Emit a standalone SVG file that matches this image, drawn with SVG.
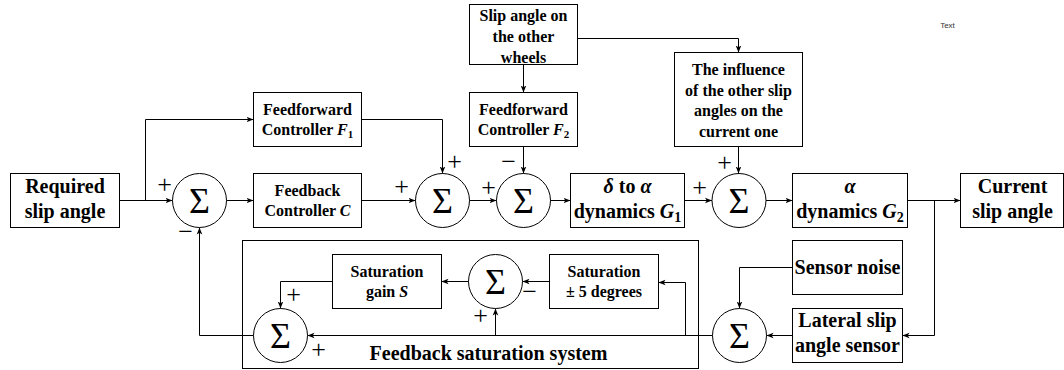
<svg xmlns="http://www.w3.org/2000/svg" width="1064" height="370" viewBox="0 0 1064 370">
<defs>
<marker id="arr" viewBox="0 0 10 10" refX="10" refY="5" markerWidth="7" markerHeight="7" markerUnits="userSpaceOnUse" orient="auto">
<path d="M0,1 L10,5 L0,9 L2.5,5 Z" fill="#000"/>
</marker>
<style>
.box{fill:#fff;stroke:#000;stroke-width:1}
.sum{fill:#fff;stroke:#000;stroke-width:1}
.edge{fill:none;stroke:#000;stroke-width:1;marker-end:url(#arr)}
text{font-weight:bold;fill:#000;text-anchor:middle}
.L{font-size:20px}
.S{font-size:16px}
.sig{font-size:36px;font-weight:normal}
.pm{font-size:26px;font-weight:normal}
.i{font-style:italic}
.note{font-size:8px;font-weight:normal;fill:#333}
</style>
</defs>
<rect width="1064" height="370" fill="#fff"/>
<g transform="translate(0.5,0.5)" font-family="'Liberation Serif', 'DejaVu Serif', serif">
<g id="saturation-system">
<rect class="box" x="242" y="240" width="456" height="128"/>
<text class="L" x="488" y="359">Feedback saturation system</text>
</g>
<g id="required"><rect class="box" x="10" y="173" width="109" height="54"/>
<text class="L" x="64.5" y="192">Required</text><text class="L" x="64.5" y="217">slip angle</text></g>
<g id="ff1"><rect class="box" x="253" y="92" width="108" height="54"/>
<text class="S" x="307" y="114">Feedforward</text><text class="S" x="307" y="134">Controller <tspan class="i">F</tspan><tspan font-size="11" dy="3">1</tspan></text></g>
<g id="fb"><rect class="box" x="253" y="173" width="108" height="54"/>
<text class="S" x="307" y="195">Feedback</text><text class="S" x="307" y="215">Controller <tspan class="i">C</tspan></text></g>
<g id="other"><rect class="box" x="469" y="4" width="108" height="60"/>
<text class="S" x="523" y="20">Slip angle on</text><text class="S" x="523" y="41">the other</text><text class="S" x="523" y="62">wheels</text></g>
<g id="ff2"><rect class="box" x="469" y="92" width="108" height="54"/>
<text class="S" x="523" y="114">Feedforward</text><text class="S" x="523" y="134">Controller <tspan class="i">F</tspan><tspan font-size="11" dy="3">2</tspan></text></g>
<g id="g1"><rect class="box" x="570" y="173" width="114" height="54"/>
<text class="L" x="627" y="192"><tspan class="i">δ</tspan> to <tspan class="i">α</tspan></text><text class="L" x="627" y="217">dynamics <tspan class="i">G</tspan><tspan font-size="14" dy="4">1</tspan></text></g>
<g id="influence"><rect class="box" x="674" y="52" width="128" height="94"/>
<text class="S" x="738" y="74">The influence</text><text class="S" x="738" y="95">of the other slip</text><text class="S" x="738" y="115">angles on the</text><text class="S" x="738" y="136">current one</text></g>
<g id="g2"><rect class="box" x="792" y="173" width="115" height="54"/>
<text class="L" x="849.5" y="192"><tspan class="i">α</tspan></text><text class="L" x="849.5" y="217">dynamics <tspan class="i">G</tspan><tspan font-size="14" dy="4">2</tspan></text></g>
<g id="current"><rect class="box" x="960" y="173" width="103" height="54"/>
<text class="L" x="1012" y="192">Current</text><text class="L" x="1012" y="217">slip angle</text></g>
<g id="satgain"><rect class="box" x="332" y="254" width="109" height="54"/>
<text class="S" x="386.5" y="276">Saturation</text><text class="S" x="386.5" y="296">gain <tspan class="i">S</tspan></text></g>
<g id="sat5"><rect class="box" x="549" y="254" width="109" height="54"/>
<text class="S" x="603.5" y="276">Saturation</text><text class="S" x="603.5" y="296">± 5 degrees</text></g>
<g id="noise"><rect class="box" x="792" y="240" width="110" height="54"/>
<text class="L" x="847" y="273">Sensor noise</text></g>
<g id="sensor"><rect class="box" x="792" y="308" width="110" height="54"/>
<text class="L" x="847" y="326">Lateral slip</text><text class="L" x="847" y="351">angle sensor</text></g>
<g id="sum1"><circle class="sum" cx="199" cy="200" r="27"/><text class="sig" x="199" y="212">Σ</text>
<text class="pm" x="164" y="192.5">+</text><text class="pm" x="185" y="239.5">−</text></g>
<g id="sum2"><circle class="sum" cx="442" cy="200" r="27"/><text class="sig" x="442" y="212">Σ</text>
<text class="pm" x="401" y="194.5">+</text><text class="pm" x="454" y="169.5">+</text></g>
<g id="sum3"><circle class="sum" cx="523" cy="200" r="27"/><text class="sig" x="523" y="212">Σ</text>
<text class="pm" x="488" y="195.5">+</text><text class="pm" x="508" y="169.5">−</text></g>
<g id="sum4"><circle class="sum" cx="738.5" cy="200" r="27"/><text class="sig" x="738.5" y="212">Σ</text>
<text class="pm" x="699" y="195.5">+</text><text class="pm" x="724" y="170.5">+</text></g>
<g id="sum5"><circle class="sum" cx="739" cy="335" r="27"/><text class="sig" x="739" y="347">Σ</text></g>
<g id="sum6"><circle class="sum" cx="280" cy="335" r="27"/><text class="sig" x="280" y="347">Σ</text>
<text class="pm" x="293" y="302.5">+</text><text class="pm" x="318" y="357.5">+</text></g>
<g id="sum7"><circle class="sum" cx="495" cy="281" r="27"/><text class="sig" x="495" y="293">Σ</text>
<text class="pm" x="529" y="299.5">−</text><text class="pm" x="480" y="323.5">+</text></g>
<g id="connectors">
<path class="edge" d="M119,200 H172"/>
<path class="edge" d="M145,200 V119 H253"/>
<path class="edge" d="M226,200 H253"/>
<path class="edge" d="M361,200 H415"/>
<path class="edge" d="M361,119 H442 V173"/>
<path class="edge" d="M469,200 H496"/>
<path class="edge" d="M523,64 V92"/>
<path class="edge" d="M523,146 V173"/>
<path class="edge" d="M550,200 H570"/>
<path class="edge" d="M684,200 H711.5"/>
<path class="edge" d="M577,38 H738 V52"/>
<path class="edge" d="M738,146 V173"/>
<path class="edge" d="M765.5,200 H792"/>
<path class="edge" d="M907,200 H960"/>
<path class="edge" d="M934,200 V335 H902"/>
<path class="edge" d="M792,335 H766"/>
<path class="edge" d="M792,267 H739 V308"/>
<path class="edge" d="M712,335 H307"/>
<path class="edge" d="M685,335 V282 H658"/>
<path class="edge" d="M495,335 V308"/>
<path class="edge" d="M549,281 H522"/>
<path class="edge" d="M468,281 H441"/>
<path class="edge" d="M332,281 H280 V308"/>
<path class="edge" d="M253,335 H199 V227"/>
</g>
<text class="note" x="947" y="27" font-family="'Liberation Sans', Arial, sans-serif">Text</text>
</g>
</svg>
